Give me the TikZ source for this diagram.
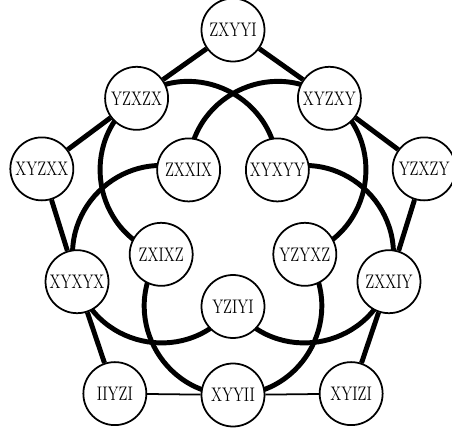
\documentclass[tikz,border=0pt]{standalone}
\usepackage{fontspec}
\setmainfont{Latin Modern Roman}[FakeStretch=0.76]
\usepackage{tikz}
\usetikzlibrary{backgrounds}

\begin{document}
\begin{tikzpicture}
	\tikzstyle{every node}=[draw,circle,fill=white,line width=1pt,minimum size=1.26cm,inner sep=0pt,font=\fontsize{11.2}{13}\selectfont]
	\tikzstyle{rim}=[line width=2.8pt]
	\tikzstyle{petal}=[line width=2.8pt,looseness=1.17]
	\tikzstyle{link}=[line width=1pt]

	\useasboundingbox (-4.66,-4.04) rectangle (4.38,4.62);

	% outer ring
	\node (zxyyi) at (90:4.02) {ZXYYI};
	\node (yzxzy) at (18:4.02) {YZXZY};
	\node (xyizi) at (-54:4.02) {XYIZI};
	\node (iiyzi) at (234:4.02) {IIYZI};
	\node (xyzxx) at (162:4.02) {XYZXX};

	% middle ring
	\node (yzxzx) at (126:3.28) {YZXZX};
	\node (xyzxy) at (54:3.28) {XYZXY};
	\node (zxxiy) at (-18:3.28) {ZXXIY};
	\node (xyyii) at (270:3.28) {XYYII};
	\node (xyxyx) at (198:3.28) {XYXYX};

	% inner ring
	\node (zxxix) at (126:1.51) {ZXXIX};
	\node (xyxyy) at (54:1.51) {XYXYY};
	\node (yzyxz) at (-18:1.51) {YZYXZ};
	\node (yziyi) at (270:1.51) {YZIYI};
	\node (zxixz) at (198:1.51) {ZXIXZ};

	\begin{scope}[on background layer]
		\draw[rim] (iiyzi) -- (xyxyx) -- (xyzxx) -- (yzxzx) -- (zxyyi) -- (xyzxy) -- (yzxzy) -- (zxxiy) -- (xyizi);
		\draw[link] (iiyzi) -- (xyyii) -- (xyizi);

		% petals
		\draw[petal] (yzxzx.center) to[bend left=63] (xyxyy.center);
		\draw[petal] (yzxzx.center) to[bend right=63] (zxixz.center);
		\draw[petal] (xyzxy.center) to[bend left=63] (yzyxz.center);
		\draw[petal] (xyzxy.center) to[bend right=63] (zxxix.center);
		\draw[petal] (zxxiy.center) to[bend left=63] (yziyi.center);
		\draw[petal] (zxxiy.center) to[bend right=63] (xyxyy.center);
		\draw[petal] (xyyii.center) to[bend left=63] (zxixz.center);
		\draw[petal] (xyyii.center) to[bend right=63] (yzyxz.center);
		\draw[petal] (xyxyx.center) to[bend left=63] (zxxix.center);
		\draw[petal] (xyxyx.center) to[bend right=63] (yziyi.center);
	\end{scope}
\end{tikzpicture}
\end{document}
